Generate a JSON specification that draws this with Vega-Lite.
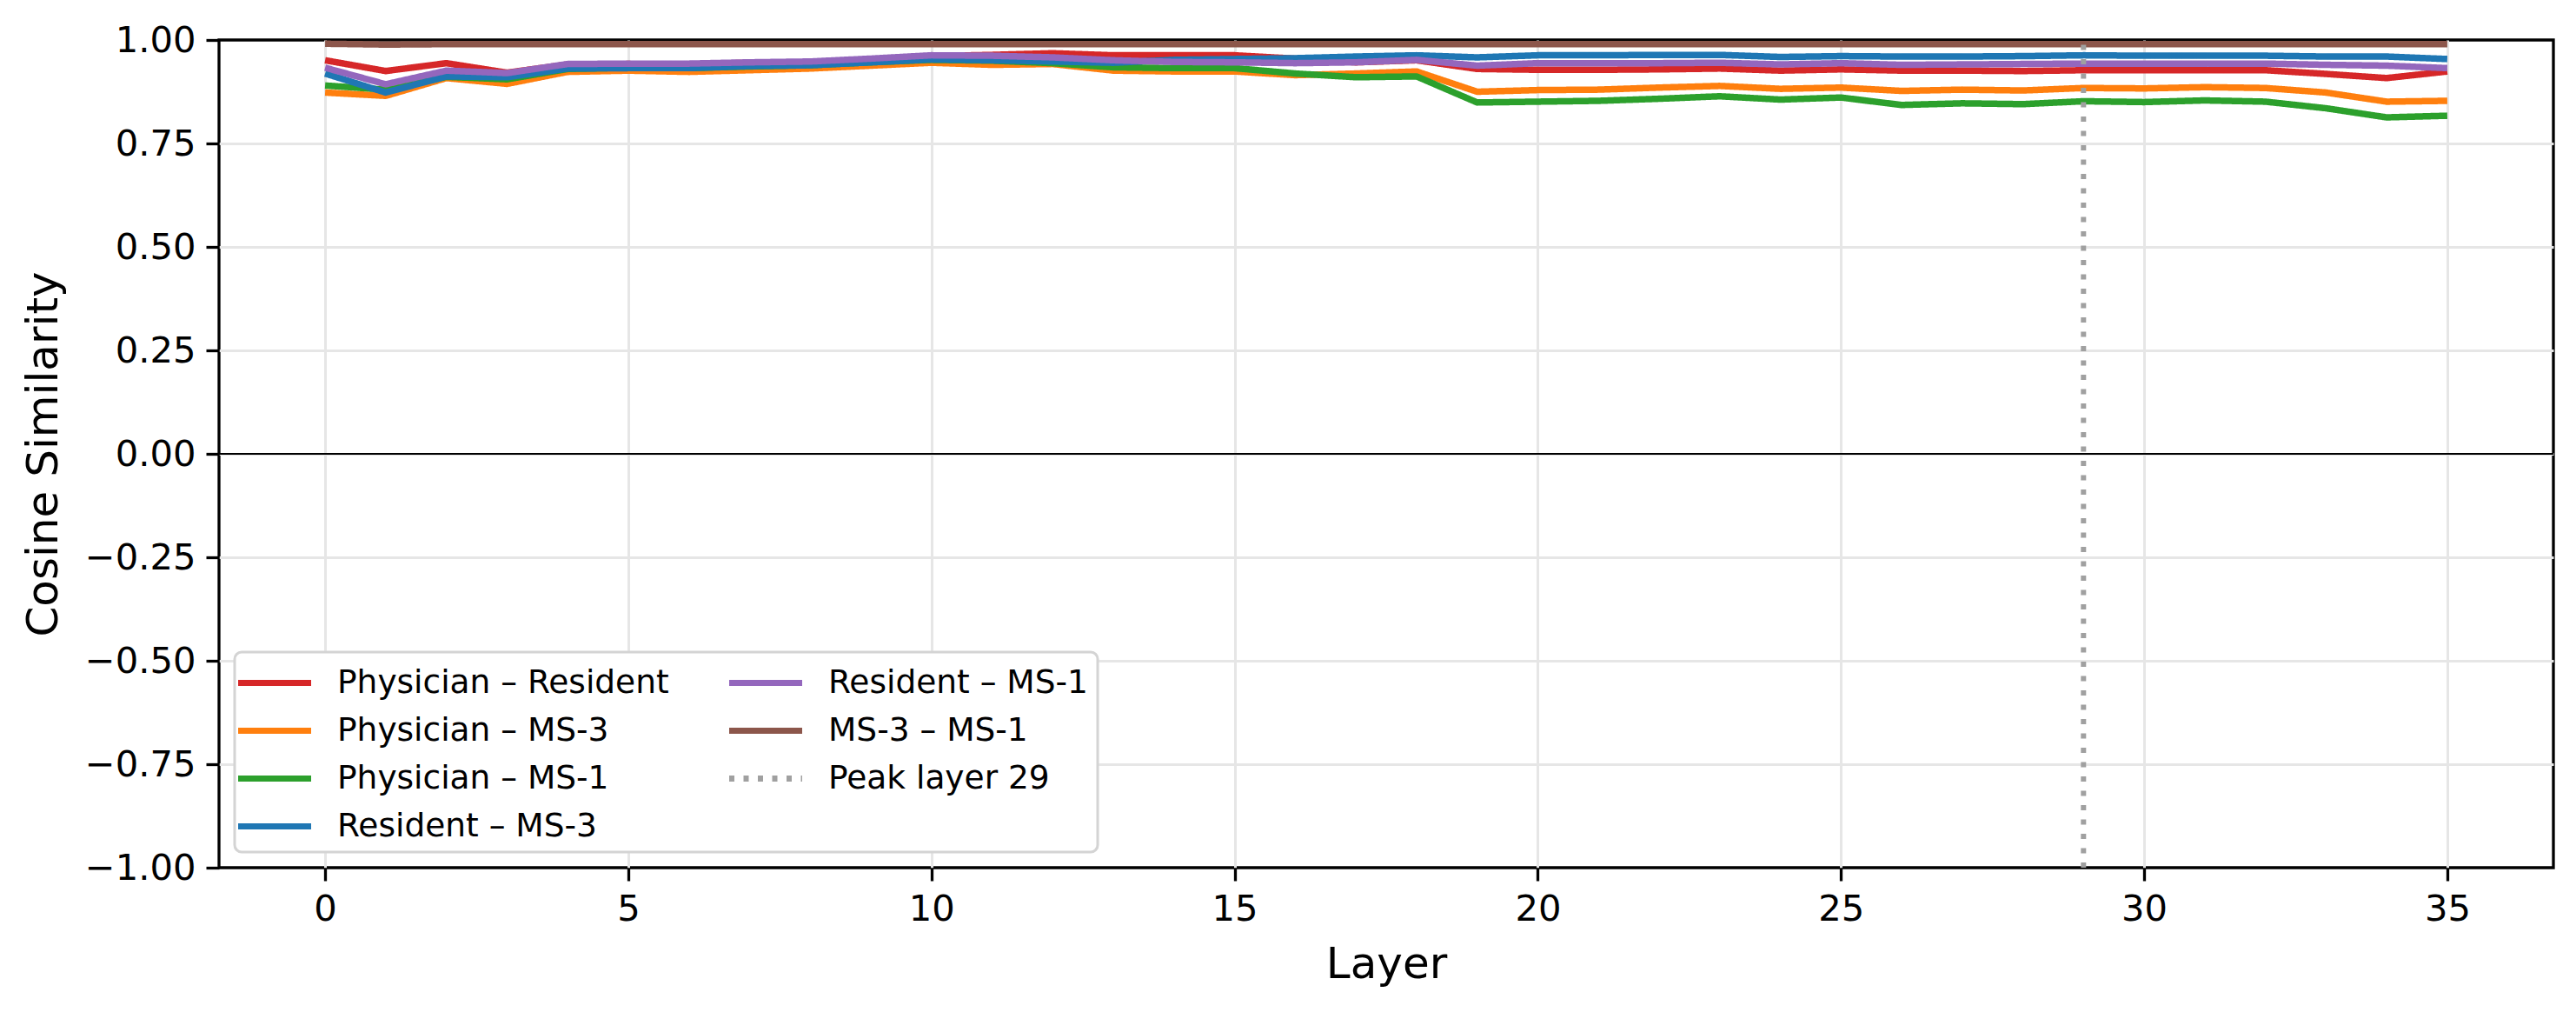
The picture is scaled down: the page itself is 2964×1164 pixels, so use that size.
{
  "$schema": "https://vega.github.io/schema/vega-lite/v6.json",
  "autosize": {"type": "none"},
  "padding": {"left": 252, "top": 46, "right": 26, "bottom": 166},
  "width": 2686,
  "height": 952,
  "background": "white",
  "config": {
    "font": "DejaVu Sans",
    "view": {"stroke": "black", "strokeWidth": 3.3},
    "axis": {
      "domain": false,
      "grid": true,
      "gridColor": "#e6e6e6",
      "gridWidth": 3,
      "tickColor": "black",
      "tickWidth": 3.3,
      "tickSize": 15,
      "labelFont": "DejaVu Sans",
      "labelFontSize": 41.7,
      "labelColor": "black",
      "labelPadding": 12,
      "titleFont": "DejaVu Sans",
      "titleFontSize": 50,
      "titleFontWeight": "normal",
      "titleColor": "black"
    },
    "legend": {
      "orient": "bottom-left",
      "offset": 18,
      "columns": 2,
      "symbolType": "M-1.5,0H2.5",
      "symbolSize": 1764,
      "symbolStrokeWidth": 7,
      "symbolFillColor": "transparent",
      "labelFont": "DejaVu Sans",
      "labelFontSize": 37.5,
      "labelColor": "black",
      "labelLimit": 0,
      "labelOffset": 58,
      "columnPadding": 55,
      "rowPadding": 12,
      "padding": 11,
      "strokeColor": "#d4d4d4",
      "strokeWidth": 3,
      "fillColor": "white",
      "cornerRadius": 8
    }
  },
  "datasets": {
    "similarity": [
      {"layer": 0, "Physician – Resident": 0.951, "Physician – MS-3": 0.873, "Physician – MS-1": 0.890, "Resident – MS-3": 0.919, "Resident – MS-1": 0.933, "MS-3 – MS-1": 0.991},
      {"layer": 1, "Physician – Resident": 0.925, "Physician – MS-3": 0.865, "Physician – MS-1": 0.880, "Resident – MS-3": 0.873, "Resident – MS-1": 0.893, "MS-3 – MS-1": 0.989},
      {"layer": 2, "Physician – Resident": 0.944, "Physician – MS-3": 0.908, "Physician – MS-1": 0.911, "Resident – MS-3": 0.912, "Resident – MS-1": 0.926, "MS-3 – MS-1": 0.990},
      {"layer": 3, "Physician – Resident": 0.921, "Physician – MS-3": 0.894, "Physician – MS-1": 0.905, "Resident – MS-3": 0.910, "Resident – MS-1": 0.920, "MS-3 – MS-1": 0.990},
      {"layer": 4, "Physician – Resident": 0.941, "Physician – MS-3": 0.923, "Physician – MS-1": 0.930, "Resident – MS-3": 0.931, "Resident – MS-1": 0.942, "MS-3 – MS-1": 0.990},
      {"layer": 5, "Physician – Resident": 0.942, "Physician – MS-3": 0.926, "Physician – MS-1": 0.933, "Resident – MS-3": 0.932, "Resident – MS-1": 0.943, "MS-3 – MS-1": 0.990},
      {"layer": 6, "Physician – Resident": 0.941, "Physician – MS-3": 0.923, "Physician – MS-1": 0.932, "Resident – MS-3": 0.932, "Resident – MS-1": 0.943, "MS-3 – MS-1": 0.990},
      {"layer": 7, "Physician – Resident": 0.945, "Physician – MS-3": 0.927, "Physician – MS-1": 0.936, "Resident – MS-3": 0.937, "Resident – MS-1": 0.946, "MS-3 – MS-1": 0.990},
      {"layer": 8, "Physician – Resident": 0.946, "Physician – MS-3": 0.931, "Physician – MS-1": 0.939, "Resident – MS-3": 0.939, "Resident – MS-1": 0.948, "MS-3 – MS-1": 0.990},
      {"layer": 9, "Physician – Resident": 0.953, "Physician – MS-3": 0.938, "Physician – MS-1": 0.946, "Resident – MS-3": 0.946, "Resident – MS-1": 0.955, "MS-3 – MS-1": 0.990},
      {"layer": 10, "Physician – Resident": 0.961, "Physician – MS-3": 0.945, "Physician – MS-1": 0.952, "Resident – MS-3": 0.953, "Resident – MS-1": 0.963, "MS-3 – MS-1": 0.990},
      {"layer": 11, "Physician – Resident": 0.964, "Physician – MS-3": 0.940, "Physician – MS-1": 0.950, "Resident – MS-3": 0.951, "Resident – MS-1": 0.962, "MS-3 – MS-1": 0.990},
      {"layer": 12, "Physician – Resident": 0.968, "Physician – MS-3": 0.942, "Physician – MS-1": 0.944, "Resident – MS-3": 0.948, "Resident – MS-1": 0.958, "MS-3 – MS-1": 0.990},
      {"layer": 13, "Physician – Resident": 0.963, "Physician – MS-3": 0.926, "Physician – MS-1": 0.934, "Resident – MS-3": 0.945, "Resident – MS-1": 0.951, "MS-3 – MS-1": 0.990},
      {"layer": 14, "Physician – Resident": 0.963, "Physician – MS-3": 0.924, "Physician – MS-1": 0.932, "Resident – MS-3": 0.952, "Resident – MS-1": 0.947, "MS-3 – MS-1": 0.990},
      {"layer": 15, "Physician – Resident": 0.963, "Physician – MS-3": 0.924, "Physician – MS-1": 0.932, "Resident – MS-3": 0.954, "Resident – MS-1": 0.946, "MS-3 – MS-1": 0.990},
      {"layer": 16, "Physician – Resident": 0.955, "Physician – MS-3": 0.915, "Physician – MS-1": 0.919, "Resident – MS-3": 0.956, "Resident – MS-1": 0.944, "MS-3 – MS-1": 0.990},
      {"layer": 17, "Physician – Resident": 0.946, "Physician – MS-3": 0.919, "Physician – MS-1": 0.910, "Resident – MS-3": 0.960, "Resident – MS-1": 0.946, "MS-3 – MS-1": 0.990},
      {"layer": 18, "Physician – Resident": 0.951, "Physician – MS-3": 0.924, "Physician – MS-1": 0.912, "Resident – MS-3": 0.963, "Resident – MS-1": 0.952, "MS-3 – MS-1": 0.990},
      {"layer": 19, "Physician – Resident": 0.930, "Physician – MS-3": 0.875, "Physician – MS-1": 0.849, "Resident – MS-3": 0.958, "Resident – MS-1": 0.938, "MS-3 – MS-1": 0.990},
      {"layer": 20, "Physician – Resident": 0.928, "Physician – MS-3": 0.879, "Physician – MS-1": 0.851, "Resident – MS-3": 0.963, "Resident – MS-1": 0.944, "MS-3 – MS-1": 0.990},
      {"layer": 21, "Physician – Resident": 0.928, "Physician – MS-3": 0.880, "Physician – MS-1": 0.853, "Resident – MS-3": 0.963, "Resident – MS-1": 0.944, "MS-3 – MS-1": 0.990},
      {"layer": 22, "Physician – Resident": 0.929, "Physician – MS-3": 0.885, "Physician – MS-1": 0.858, "Resident – MS-3": 0.964, "Resident – MS-1": 0.944, "MS-3 – MS-1": 0.990},
      {"layer": 23, "Physician – Resident": 0.931, "Physician – MS-3": 0.889, "Physician – MS-1": 0.864, "Resident – MS-3": 0.964, "Resident – MS-1": 0.945, "MS-3 – MS-1": 0.990},
      {"layer": 24, "Physician – Resident": 0.926, "Physician – MS-3": 0.882, "Physician – MS-1": 0.856, "Resident – MS-3": 0.959, "Resident – MS-1": 0.941, "MS-3 – MS-1": 0.990},
      {"layer": 25, "Physician – Resident": 0.929, "Physician – MS-3": 0.885, "Physician – MS-1": 0.861, "Resident – MS-3": 0.961, "Resident – MS-1": 0.944, "MS-3 – MS-1": 0.990},
      {"layer": 26, "Physician – Resident": 0.926, "Physician – MS-3": 0.877, "Physician – MS-1": 0.843, "Resident – MS-3": 0.960, "Resident – MS-1": 0.940, "MS-3 – MS-1": 0.990},
      {"layer": 27, "Physician – Resident": 0.926, "Physician – MS-3": 0.880, "Physician – MS-1": 0.847, "Resident – MS-3": 0.960, "Resident – MS-1": 0.941, "MS-3 – MS-1": 0.990},
      {"layer": 28, "Physician – Resident": 0.925, "Physician – MS-3": 0.878, "Physician – MS-1": 0.845, "Resident – MS-3": 0.961, "Resident – MS-1": 0.942, "MS-3 – MS-1": 0.990},
      {"layer": 29, "Physician – Resident": 0.927, "Physician – MS-3": 0.884, "Physician – MS-1": 0.852, "Resident – MS-3": 0.963, "Resident – MS-1": 0.943, "MS-3 – MS-1": 0.990},
      {"layer": 30, "Physician – Resident": 0.927, "Physician – MS-3": 0.883, "Physician – MS-1": 0.850, "Resident – MS-3": 0.962, "Resident – MS-1": 0.943, "MS-3 – MS-1": 0.990},
      {"layer": 31, "Physician – Resident": 0.927, "Physician – MS-3": 0.886, "Physician – MS-1": 0.854, "Resident – MS-3": 0.962, "Resident – MS-1": 0.943, "MS-3 – MS-1": 0.990},
      {"layer": 32, "Physician – Resident": 0.927, "Physician – MS-3": 0.884, "Physician – MS-1": 0.851, "Resident – MS-3": 0.962, "Resident – MS-1": 0.943, "MS-3 – MS-1": 0.990},
      {"layer": 33, "Physician – Resident": 0.918, "Physician – MS-3": 0.873, "Physician – MS-1": 0.835, "Resident – MS-3": 0.960, "Resident – MS-1": 0.940, "MS-3 – MS-1": 0.990},
      {"layer": 34, "Physician – Resident": 0.908, "Physician – MS-3": 0.851, "Physician – MS-1": 0.813, "Resident – MS-3": 0.960, "Resident – MS-1": 0.938, "MS-3 – MS-1": 0.990},
      {"layer": 35, "Physician – Resident": 0.924, "Physician – MS-3": 0.853, "Physician – MS-1": 0.817, "Resident – MS-3": 0.954, "Resident – MS-1": 0.932, "MS-3 – MS-1": 0.990}
    ],
    "peak": [
      {"layer": 29, "value": -1, "series": "Peak layer 29"},
      {"layer": 29, "value": 1, "series": "Peak layer 29"}
    ],
    "zero": [{"value": 0}]
  },
  "encoding": {
    "x": {
      "field": "layer",
      "type": "quantitative",
      "title": "Layer",
      "scale": {"domain": [-1.75, 36.75], "nice": false, "zero": false},
      "axis": {"values": [0, 5, 10, 15, 20, 25, 30, 35], "format": "d", "labelPadding": 12, "titlePadding": 18}
    },
    "y": {
      "field": "value",
      "type": "quantitative",
      "title": "Cosine Similarity",
      "scale": {"domain": [-1, 1], "nice": false, "zero": false},
      "axis": {
        "values": [-1, -0.75, -0.5, -0.25, 0, 0.25, 0.5, 0.75, 1],
        "format": ".2f",
        "titlePadding": 22,
        "gridOpacity": {"condition": {"test": "abs(datum.value) == 1", "value": 0}, "value": 1}
      }
    }
  },
  "layer": [
    {
      "data": {"name": "zero"},
      "mark": {"type": "rule", "color": "black", "strokeWidth": 2},
      "encoding": {"x": null}
    },
    {
      "data": {"name": "similarity"},
      "transform": [
        {"fold": ["Physician – Resident", "Physician – MS-3", "Physician – MS-1", "Resident – MS-3", "Resident – MS-1", "MS-3 – MS-1"], "as": ["series", "value"]}
      ],
      "mark": {"type": "line", "strokeWidth": 7.5, "strokeCap": "butt", "strokeJoin": "round"},
      "encoding": {
        "color": {
          "field": "series",
          "type": "nominal",
          "title": null,
          "scale": {
            "domain": ["Physician – Resident", "Physician – MS-3", "Physician – MS-1", "Resident – MS-3", "Resident – MS-1", "MS-3 – MS-1", "Peak layer 29"],
            "range": ["#d62728", "#ff7f0e", "#2ca02c", "#1f77b4", "#9467bd", "#8c564b", "#a0a0a0"]
          }
        },
        "strokeDash": {
          "field": "series",
          "type": "nominal",
          "title": null,
          "scale": {
            "domain": ["Physician – Resident", "Physician – MS-3", "Physician – MS-1", "Resident – MS-3", "Resident – MS-1", "MS-3 – MS-1", "Peak layer 29"],
            "range": [[1, 0], [1, 0], [1, 0], [1, 0], [1, 0], [1, 0], [6, 10.5]]
          }
        }
      }
    },
    {
      "data": {"name": "peak"},
      "mark": {"type": "line", "strokeWidth": 6, "strokeCap": "butt"},
      "encoding": {
        "color": {"field": "series", "type": "nominal", "title": null},
        "strokeDash": {"field": "series", "type": "nominal", "title": null}
      }
    }
  ]
}
